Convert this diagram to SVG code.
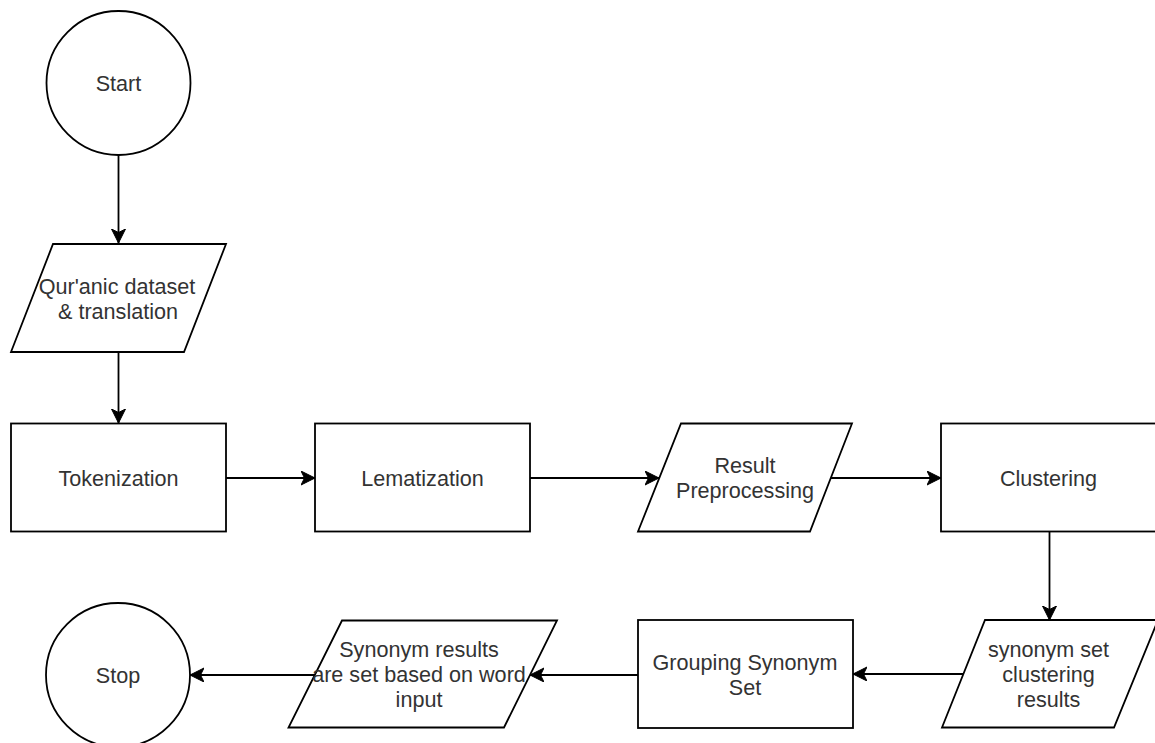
<svg xmlns="http://www.w3.org/2000/svg" width="1155" height="743" viewBox="0 0 1155 743">
<style>
.shape{fill:#fff;stroke:#000;stroke-width:1.8}
.lbl{font-family:"Liberation Sans",Arial,sans-serif;font-size:21.6px;fill:#333;text-anchor:middle}
.edge{fill:none;stroke:#000;stroke-width:1.8}
</style>
<defs>
<marker id="arr" markerUnits="userSpaceOnUse" markerWidth="16" markerHeight="16" refX="14" refY="7" orient="auto" viewBox="0 0 16 16">
<path d="M14,7 L0,0 L3.5,7 L0,14 Z" fill="#000" stroke="#000" stroke-width="1"/>
</marker>
</defs>
<rect width="1155" height="743" fill="#fff"/>
<g id="connectors">
<line class="edge" x1="118.5" y1="155" x2="118.5" y2="243" marker-end="url(#arr)"/>
<line class="edge" x1="118.5" y1="352" x2="118.5" y2="423" marker-end="url(#arr)"/>
<line class="edge" x1="226" y1="478" x2="315" y2="478" marker-end="url(#arr)"/>
<line class="edge" x1="530" y1="478" x2="659" y2="478" marker-end="url(#arr)"/>
<line class="edge" x1="831" y1="478" x2="941" y2="478" marker-end="url(#arr)"/>
<line class="edge" x1="1049.5" y1="532" x2="1049.5" y2="620" marker-end="url(#arr)"/>
<line class="edge" x1="963" y1="674" x2="853" y2="674" marker-end="url(#arr)"/>
<line class="edge" x1="638" y1="675" x2="530" y2="675" marker-end="url(#arr)"/>
<line class="edge" x1="315" y1="675" x2="190" y2="675" marker-end="url(#arr)"/>
</g>
<g id="start">
<circle class="shape" cx="118.5" cy="83" r="72"/>
<text class="lbl" x="118.5" y="91">Start</text>
</g>
<g id="dataset">
<polygon class="shape" points="53,244 226,244 184,352 11,352"/>
<text class="lbl" x="117" y="294">Qur'anic dataset</text>
<text class="lbl" x="118" y="319">&amp; translation</text>
</g>
<g id="tokenization">
<rect class="shape" x="11" y="423.5" width="215" height="108"/>
<text class="lbl" x="118.5" y="486">Tokenization</text>
</g>
<g id="lematization">
<rect class="shape" x="315" y="423.5" width="215" height="108"/>
<text class="lbl" x="422.5" y="486">Lematization</text>
</g>
<g id="result">
<polygon class="shape" points="681,423.5 852,423.5 810,531.5 638,531.5"/>
<text class="lbl" x="745" y="473">Result</text>
<text class="lbl" x="745" y="498">Preprocessing</text>
</g>
<g id="clustering">
<rect class="shape" x="941" y="423.5" width="216" height="108"/>
<text class="lbl" x="1048.5" y="486">Clustering</text>
</g>
<g id="synset">
<polygon class="shape" points="985,620 1158,620 1114,727.5 942,727.5"/>
<text class="lbl" x="1048.5" y="657">synonym set</text>
<text class="lbl" x="1048.5" y="682">clustering</text>
<text class="lbl" x="1048.5" y="707">results</text>
</g>
<g id="grouping">
<rect class="shape" x="638" y="620" width="215" height="108"/>
<text class="lbl" x="745" y="670">Grouping Synonym</text>
<text class="lbl" x="745" y="695">Set</text>
</g>
<g id="synresults">
<polygon class="shape" points="342,620.5 557,620.5 504,727.5 288.5,727.5"/>
<text class="lbl" x="419" y="657">Synonym results</text>
<text class="lbl" x="419" y="682">are set based on word</text>
<text class="lbl" x="419" y="707">input</text>
</g>
<g id="stop">
<circle class="shape" cx="118" cy="675" r="72"/>
<text class="lbl" x="118" y="683">Stop</text>
</g>
</svg>
